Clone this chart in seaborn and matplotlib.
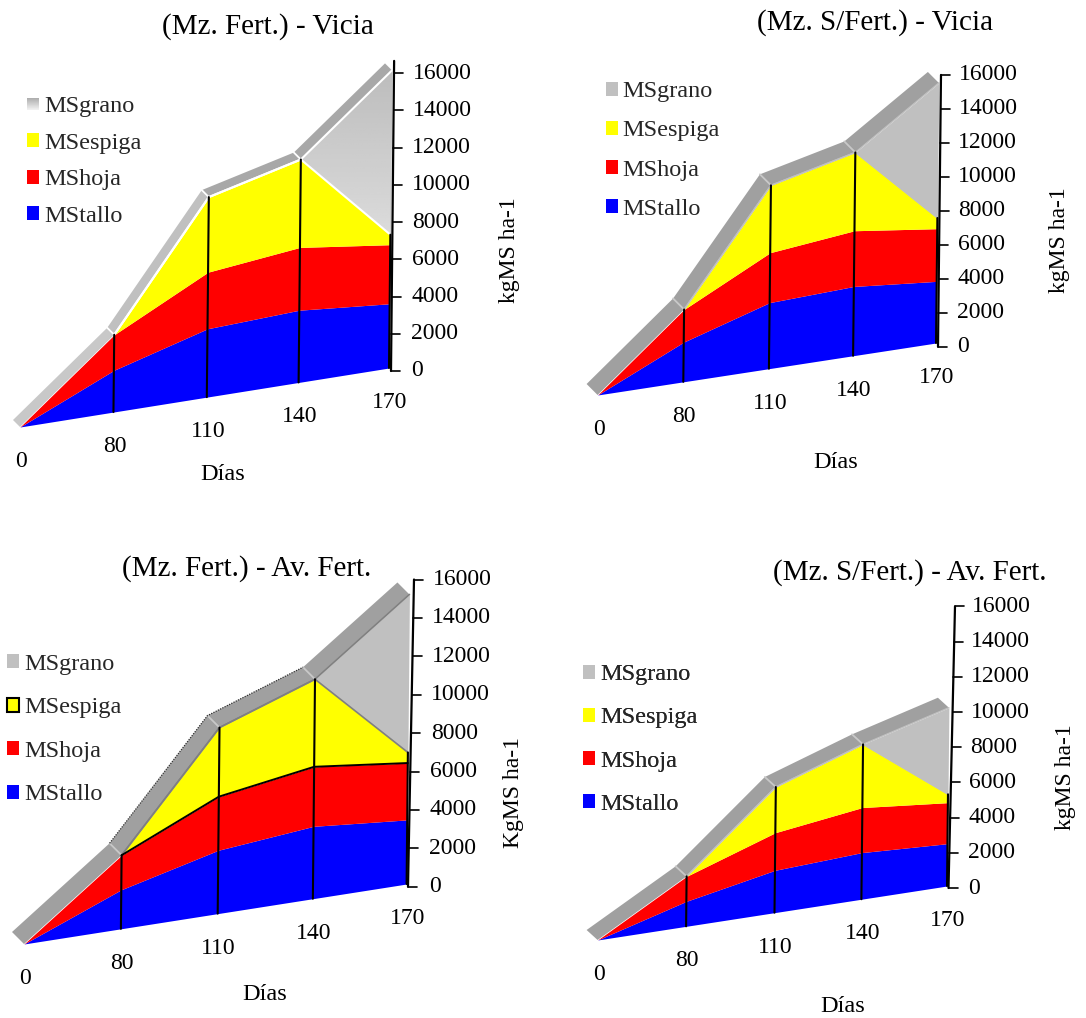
import matplotlib
matplotlib.use("Agg")
import matplotlib.pyplot as plt
import numpy as np
import seaborn as sns
from matplotlib.patches import Patch, Polygon
from matplotlib.transforms import Affine2D

DIAS = ["0", "80", "110", "140", "170"]
SERIES = ["MStallo", "MShoja", "MSespiga", "MSgrano"]
COLORS = ["#0000ff", "#ff0000", "#ffff00", "#c0c0c0"]
Y_TICKS = [0, 2000, 4000, 6000, 8000, 10000, 12000, 14000, 16000]

# stacked dry matter per stage, kg/ha
stallo_mf_vicia = [0, 2240, 3670, 3880, 3450]
hoja_mf_vicia = [0, 1910, 3040, 3370, 3170]
espiga_mf_vicia = [0, 0, 4030, 4720, 540]
grano_mf_vicia = [0, 0, 0, 0, 8820]

stallo_sf_vicia = [0, 2340, 3890, 4080, 3630]
hoja_sf_vicia = [0, 1920, 2940, 3280, 3100]
espiga_sf_vicia = [0, 0, 3965, 4610, 630]
grano_sf_vicia = [0, 0, 0, 0, 7950]

stallo_mf_avena = [0, 2035, 3300, 3770, 3340]
hoja_mf_avena = [0, 1795, 2790, 3100, 2960]
espiga_mf_avena = [0, 0, 3600, 4560, 550]
grano_mf_avena = [0, 0, 0, 0, 8230]

stallo_sf_avena = [0, 1420, 2405, 2650, 2405]
hoja_sf_avena = [0, 1420, 2140, 2560, 2330]
espiga_sf_avena = [0, 0, 2595, 3590, 475]
grano_sf_avena = [0, 0, 0, 0, 4920]

# the floor is in perspective, so the slots are not quite evenly spaced
FLOOR = np.array([0, 1.013, 2.025, 3.02, 4])

PANELS = [
    dict(
        title="(Mz. Fert.) - Vicia", title_xy=(268, 27),
        values=[stallo_mf_vicia, hoja_mf_vicia, espiga_mf_vicia, grano_mf_vicia],
        origin=(20, 427), end=(389, 368), per_2000=37.25, depth=(-7, -7),
        axis_base=(391, 371), axis_lean=3, axis_top=16650, tick_x=411,
        ridge=["#c8c8c8", "#c0c0c0", "#a8a8a8", "#a8a8a8"], edge="white", edge_w=1.5,
        ylabel="kgMS ha-1", ylabel_xy=(510, 250), xlabel_xy=(223, 475),
        legend_xy=(27, 161.5), spacing=0.64, gradient=True,
    ),
    dict(
        title="(Mz. S/Fert.) - Vicia", title_xy=(875, 23),
        values=[stallo_sf_vicia, hoja_sf_vicia, espiga_sf_vicia, grano_sf_vicia],
        origin=(597.6, 395), end=(936, 343), per_2000=33.97, depth=(-11, -11),
        axis_base=(938, 346.7), axis_lean=3, axis_top=16000, tick_x=957,
        ridge=["#a0a0a0"] * 4, edge="#c0c0c0", edge_w=1.0,
        ylabel="kgMS ha-1", ylabel_xy=(1059, 240), xlabel_xy=(836, 463),
        legend_xy=(605.5, 150.5), spacing=0.745,
    ),
    dict(
        title="(Mz. Fert.) - Av. Fert.", title_xy=(247, 569),
        values=[stallo_mf_avena, hoja_mf_avena, espiga_mf_avena, grano_mf_avena],
        origin=(24, 944), end=(406.6, 884), per_2000=38.4, depth=(-12, -12),
        axis_base=(408, 886.7), axis_lean=6, axis_top=16000, tick_x=429,
        ridge=["#a0a0a0"] * 4, edge="#808080", edge_w=1.2,
        ylabel="KgMS ha-1", ylabel_xy=(513, 792), xlabel_xy=(265, 994),
        legend_xy=(7, 729.5), spacing=0.925, outlined=True,
    ),
    dict(
        title="(Mz. S/Fert.) - Av. Fert.", title_xy=(910, 573),
        values=[stallo_sf_avena, hoja_sf_avena, espiga_sf_avena, grano_sf_avena],
        origin=(597.6, 940), end=(947, 886), per_2000=35.2, depth=(-11, -10),
        axis_base=(948.5, 888), axis_lean=6.5, axis_top=16000, tick_x=968,
        ridge=["#a0a0a0"] * 4, edge="#c0c0c0", edge_w=1.0,
        ylabel="kgMS ha-1", ylabel_xy=(1065, 777), xlabel_xy=(843, 1007),
        legend_xy=(583, 739.5), spacing=0.91,
    ),
]

sns.set_theme(style="white")
plt.rcParams["font.family"] = ["Liberation Serif", "DejaVu Sans"]

fig, ax = plt.subplots(figsize=(10.86, 10.18), dpi=100)
fig.subplots_adjust(left=0, right=1, bottom=0, top=1)
ax.set_autoscale_on(False)
ax.set_xlim(0, 1086)
ax.set_ylim(1018, 0)
ax.set_axis_off()


def draw_panel(ax, panel):
    stacks = np.cumsum(panel["values"], axis=0)
    x0, y0 = panel["origin"]
    dx = (panel["end"][0] - x0) / FLOOR[-1]
    dy = (panel["end"][1] - y0) / FLOOR[-1]
    k = panel["per_2000"] / 2000

    # slot position and kg/ha to picture pixels, sheared like the 3D chart
    skew = Affine2D.from_values(dx, dy, 3 / 16000, -k, x0, y0)
    trans = skew + ax.transData

    ax.stackplot(FLOOR, panel["values"], colors=COLORS, linewidth=0, transform=trans, zorder=2)

    if panel.get("gradient"):
        corners = skew.transform(np.column_stack(
            [FLOOR[[3, 4, 4]], [stacks[3][3], stacks[3][4], stacks[2][4]]]))
        clip = Polygon(corners, closed=True, fc="none", ec="none", transform=ax.transData)
        ax.add_patch(clip)
        shade = np.linspace(0.74, 0.86, 64).reshape(-1, 1)
        img = ax.imshow(shade, cmap="gray", vmin=0, vmax=1, aspect="auto", zorder=2.5,
                        extent=(corners[:, 0].min(), corners[:, 0].max(),
                                corners[:, 1].max(), corners[:, 1].min()))
        img.set_clip_path(clip)

    # top face of the 3D area
    top = skew.transform(np.column_stack([FLOOR, stacks[-1]]))
    depth = np.array(panel["depth"])
    for i in range(len(FLOOR) - 1):
        quad = [top[i], top[i + 1], top[i + 1] + depth, top[i] + depth]
        ax.add_patch(Polygon(quad, closed=True, fc=panel["ridge"][i], ec="none", zorder=3))
    for i in range(1, len(FLOOR) - 1):
        ax.plot([top[i][0], top[i][0] + depth[0]], [top[i][1], top[i][1] + depth[1]],
                color="white" if panel["edge"] == "white" else "#c8c8c8", lw=1.3, zorder=3.5)

    ax.plot(FLOOR[1:], stacks[-1][1:], color=panel["edge"], lw=panel["edge_w"],
            transform=trans, zorder=4)
    ax.plot(FLOOR[1:], stacks[2][1:], color=panel["edge"], lw=panel["edge_w"],
            transform=trans, zorder=4)
    if panel.get("outlined"):
        ax.plot(FLOOR[1:], stacks[1][1:], color="black", lw=1.4, transform=trans, zorder=4)
        ax.plot(top[1:4, 0] + depth[0], top[1:4, 1] + depth[1], color="#303030", lw=0.9,
                ls=(0, (1, 1)), zorder=4)

    # drop lines up to the top of MSespiga
    for i in range(1, len(FLOOR)):
        sns.lineplot(x=[FLOOR[i], FLOOR[i]], y=[0, stacks[2][i]], color="black", lw=1.5, ax=ax,
                     estimator=None, sort=False, legend=False, transform=trans, zorder=5)

    # value axis with its ticks
    ax0, ay0 = panel["axis_base"]
    axis_map = Affine2D.from_values(1, 0, panel["axis_lean"] / 16000, -k, ax0, ay0)
    ax.plot([0, 0], [0, panel["axis_top"]], color="black", lw=1.6,
            transform=axis_map + ax.transData, zorder=5)
    for tick in Y_TICKS:
        px, py = axis_map.transform((0, tick))
        ax.plot([px, px + 9], [py, py], color="black", lw=1.2, zorder=5)
        ax.text(panel["tick_x"] + (px - ax0) * 0.6, py, f"{tick}", fontsize=17,
                ha="left", va="center", color="black")

    # category labels hang below the floor edge
    for pos, label in zip(FLOOR, DIAS):
        px, py = skew.transform((pos, 0))
        ax.text(px + 1, py + 34.5, label, fontsize=17, ha="center", va="center", color="black")

    ax.text(*panel["title_xy"], panel["title"], fontsize=21, ha="center", va="center",
            color="black")
    ax.text(*panel["ylabel_xy"], panel["ylabel"], fontsize=17, rotation=90,
            ha="center", va="center", color="black")
    ax.text(*panel["xlabel_xy"], "Días", fontsize=17.5, ha="center", va="center", color="black")

    handles = [Patch(facecolor=c, edgecolor="none") for c in COLORS][::-1]
    if panel.get("outlined"):
        handles[1] = Patch(facecolor=COLORS[2], edgecolor="black", lw=1.5)
    if panel.get("gradient"):
        handles[0] = Patch(facecolor="none", edgecolor="none")
    leg = ax.legend(handles, SERIES[::-1], loc="center left", frameon=False, fontsize=17.5,
                    bbox_to_anchor=panel["legend_xy"], bbox_transform=ax.transData,
                    borderpad=0, borderaxespad=0, handlelength=0.5, handleheight=0.5,
                    handletextpad=0.2, labelspacing=panel["spacing"])
    ax.add_artist(leg)
    if panel.get("gradient"):
        fade = np.linspace(0.68, 0.95, 32).reshape(-1, 1)
        ax.imshow(fade, cmap="gray", vmin=0, vmax=1, aspect="auto", zorder=6,
                  extent=(27, 39, 110, 98))


for panel in PANELS:
    draw_panel(ax, panel)

ax.set_xlim(0, 1086)
ax.set_ylim(1018, 0)
fig.savefig("out.png", dpi=100)
plt.close(fig)
